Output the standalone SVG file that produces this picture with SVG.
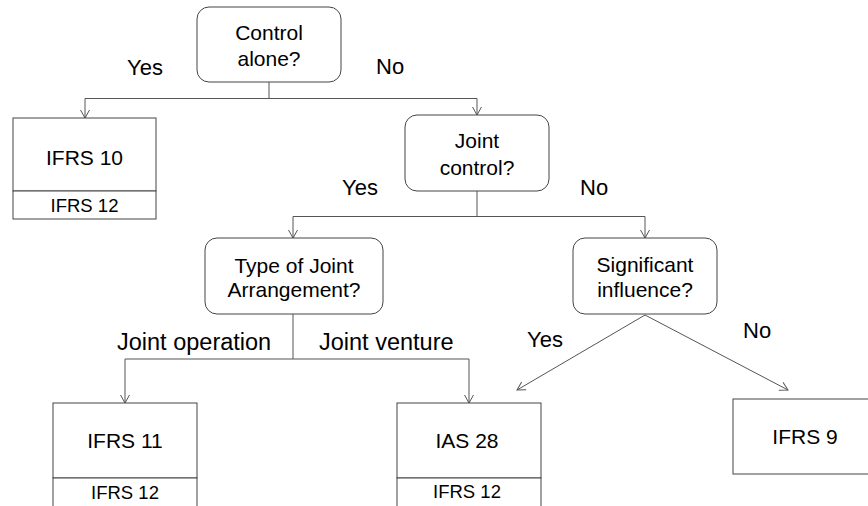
<svg xmlns="http://www.w3.org/2000/svg" width="868" height="506" viewBox="0 0 868 506">
  <defs>
    <marker id="arrow" markerUnits="userSpaceOnUse" markerWidth="12" markerHeight="12" viewBox="-10 -6 12 12" refX="0" refY="0" orient="auto">
      <path d="M-8,-4.5 L0,0 L-8,4.5" fill="none" stroke="#555" stroke-width="1"/>
    </marker>
  </defs>
  <style>
    .q { fill: #fff; stroke: #444; stroke-width: 1; }
    .b { fill: #fff; stroke: #444; stroke-width: 1; }
    .t { font-family: "Liberation Sans", Arial, sans-serif; fill: #000; }
    .bt { font-size: 21px; text-anchor: middle; }
    .st { font-size: 18.5px; text-anchor: middle; }
    .lb { font-size: 22px; }
    .lb2 { font-size: 23.5px; }
    .c { fill: none; stroke: #555; stroke-width: 1; }
    .ca { fill: none; stroke: #555; stroke-width: 1; marker-end: url(#arrow); }
  </style>

  <rect width="868" height="506" fill="#fff"/>

  <!-- connectors -->
  <g id="connectors">
    <path class="c" d="M269,82 V98.5"/>
    <path class="ca" d="M269,98.5 H85 V118"/>
    <path class="ca" d="M269,98.5 H477 V115"/>
    <path class="c" d="M477,191 V216.5"/>
    <path class="ca" d="M477,216.5 H293 V238"/>
    <path class="ca" d="M477,216.5 H645 V238"/>
    <path class="c" d="M293,314 V359"/>
    <path class="ca" d="M293,359 H125 V403"/>
    <path class="ca" d="M293,359 H469 V403"/>
    <path class="ca" d="M645,315 L517,390"/>
    <path class="ca" d="M645,315 L788,390"/>
  </g>

  <!-- branch labels -->
  <g id="labels" class="t">
    <text class="lb" x="127" y="75">Yes</text>
    <text class="lb" x="376" y="74">No</text>
    <text class="lb" x="342" y="195">Yes</text>
    <text class="lb" x="580" y="195">No</text>
    <text class="lb2" x="117" y="350">Joint operation</text>
    <text class="lb2" x="319" y="350">Joint venture</text>
    <text class="lb" x="527" y="347">Yes</text>
    <text class="lb" x="743" y="338">No</text>
  </g>

  <g id="control-alone">
    <rect class="q" x="197" y="7" width="144" height="75" rx="12"/>
    <text class="t bt" x="269" y="40">Control</text>
    <text class="t bt" x="269" y="66">alone?</text>
  </g>

  <g id="ifrs10">
    <rect class="b" x="13" y="118" width="143" height="73"/>
    <rect class="b" x="13" y="191" width="143" height="28"/>
    <text class="t bt" x="84.5" y="165">IFRS 10</text>
    <text class="t st" x="84.5" y="211.5">IFRS 12</text>
  </g>

  <g id="joint-control">
    <rect class="q" x="405" y="115" width="144" height="76" rx="12"/>
    <text class="t bt" x="477" y="148">Joint</text>
    <text class="t bt" x="477" y="175">control?</text>
  </g>

  <g id="arrangement">
    <rect class="q" x="205" y="238" width="178" height="76" rx="12"/>
    <text class="t bt" x="294" y="272.5">Type of Joint</text>
    <text class="t bt" x="294" y="296.5">Arrangement?</text>
  </g>

  <g id="significant-influence">
    <rect class="q" x="573" y="238" width="144" height="76" rx="12"/>
    <text class="t bt" x="645" y="271.5">Significant</text>
    <text class="t bt" x="645" y="297">influence?</text>
  </g>

  <g id="ifrs11">
    <rect class="b" x="53" y="403" width="144" height="75"/>
    <rect class="b" x="53" y="478" width="144" height="30"/>
    <text class="t bt" x="125" y="448">IFRS 11</text>
    <text class="t st" x="125" y="499">IFRS 12</text>
  </g>

  <g id="ias28">
    <rect class="b" x="397" y="403" width="144" height="75"/>
    <rect class="b" x="397" y="478" width="144" height="30"/>
    <text class="t bt" x="467" y="448">IAS 28</text>
    <text class="t st" x="467" y="498">IFRS 12</text>
  </g>

  <g id="ifrs9">
    <rect class="b" x="733" y="399" width="144" height="75"/>
    <text class="t bt" x="805" y="444">IFRS 9</text>
  </g>
</svg>
